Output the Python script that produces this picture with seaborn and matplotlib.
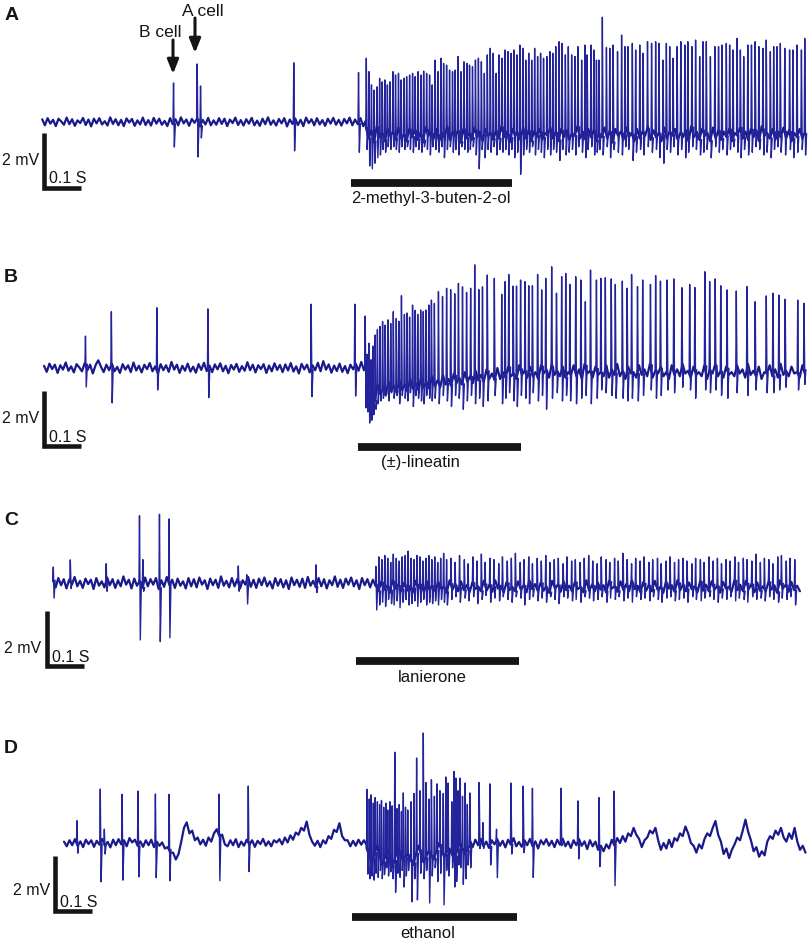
import numpy as np
import pandas as pd
import matplotlib
matplotlib.use("Agg")
import matplotlib.pyplot as plt
import seaborn as sns

sns.set_theme(style="white")
plt.rcParams["font.family"] = ["Liberation Sans", "DejaVu Sans"]

# ----------------------------------------------------------------- data
# time in ms (from the left edge of each panel's time axis), voltage in mV
panel_letters = ["A", "B", "C", "D"]
odor_labels = ["2-methyl-3-buten-2-ol", "(\u00b1)-lineatin", "lanierone", "ethanol"]
stim_start_ms = [949, 968, 962, 951]
stim_end_ms = [1384, 1408, 1403, 1397]
scale_mv = 2
scale_s = 0.1

# ---- panel A
a_pre_range = (114, 989)
a_post_range = (989, 2176)
a_noise_pre = [0.10, -0.12, 0.14, -0.06, 0.08, -0.15, 0.12, 0.02, -0.10, 0.16,
               -0.08, 0.10, -0.14, 0.06, -0.04, 0.15, -0.11, 0.09, -0.16, 0.12,
               -0.05, 0.14, -0.09, 0.03, -0.13, 0.17, -0.07, 0.10, -0.12, 0.08,
               -0.15, 0.13, -0.02, 0.11, -0.14, 0.06, -0.09, 0.16, -0.11, 0.07,
               -0.13, 0.15, -0.06, 0.12, -0.10, 0.04, -0.15, 0.14, -0.08, 0.10,
               -0.12, 0.17, -0.05, 0.09, -0.14, 0.11, -0.03, 0.13, -0.16, 0.08,
               -0.09, 0.15, -0.12, 0.06, -0.10, 0.14, -0.07, 0.12, -0.15, 0.09,
               -0.04, 0.16, -0.11, 0.07, -0.13, 0.10, -0.06, 0.15, -0.12, 0.05,
               -0.14, 0.12, -0.08, 0.17, -0.10, 0.06, -0.13, 0.11, -0.05, 0.14,
               -0.16, 0.09, -0.07, 0.13, -0.11, 0.08, -0.15, 0.16, -0.04, 0.10,
               -0.12, 0.14, -0.09, 0.07, -0.14, 0.12, -0.06, 0.15, -0.10, 0.08,
               -0.13, 0.11, -0.05, 0.16, -0.12, 0.09, -0.08, 0.14, -0.15, 0.06]
a_noise_post = [-0.20, -0.60, -0.30, -0.75, -0.15, -0.55, -0.40, -0.70, -0.25, -0.50,
                -0.35, -0.65, -0.20, -0.60, -0.45, -0.70, -0.25, -0.55, -0.30, -0.65,
                -0.40, -0.75, -0.20, -0.50, -0.35, -0.60, -0.25, -0.70, -0.40, -0.55,
                -0.15, -0.65, -0.35, -0.50, -0.30, -0.75, -0.25, -0.60, -0.40, -0.65,
                -0.20, -0.55, -0.35, -0.70, -0.25, -0.50, -0.40, -0.65, -0.30, -0.60,
                -0.15, -0.55, -0.35, -0.75, -0.25, -0.50, -0.40, -0.65, -0.20, -0.60,
                -0.30, -0.70, -0.35, -0.55, -0.25, -0.65, -0.40, -0.50, -0.20, -0.60,
                -0.35, -0.70, -0.25, -0.55, -0.30, -0.65, -0.40, -0.50, -0.15, -0.60,
                -0.35, -0.65, -0.25, -0.55, -0.30, -0.70, -0.40, -0.55, -0.20, -0.60,
                -0.30, -0.75, -0.25, -0.50, -0.35, -0.65, -0.20, -0.55, -0.40, -0.70,
                -0.25, -0.60, -0.35, -0.50, -0.15, -0.65, -0.30, -0.55, -0.40, -0.70,
                -0.20, -0.60, -0.35, -0.50, -0.25, -0.65, -0.40, -0.55, -0.30, -0.70,
                -0.15, -0.55, -0.35, -0.65, -0.25, -0.50, -0.40, -0.70, -0.20, -0.60,
                -0.30, -0.65, -0.35, -0.55, -0.25, -0.70, -0.40, -0.50, -0.20, -0.60,
                -0.35, -0.65, -0.25, -0.55, -0.30, -0.70, -0.15, -0.50, -0.40, -0.60,
                -0.25, -0.65, -0.35, -0.55, -0.20, -0.60, -0.30, -0.70, -0.40, -0.55,
                -0.25, -0.60, -0.35]
a_spike_ms = [468, 532, 541, 793, 968,
              989, 996, 1003, 1010, 1018, 1025, 1032, 1039, 1046, 1053,
              1061, 1068, 1076, 1083, 1091, 1098, 1106, 1114, 1121, 1129,
              1137, 1144, 1152, 1160, 1167, 1175, 1183, 1191, 1198, 1206,
              1214, 1222, 1229, 1237, 1245, 1253, 1261, 1268, 1276, 1284,
              1292, 1300, 1308, 1316, 1324, 1332, 1340, 1348, 1356, 1364,
              1372, 1380, 1388, 1396, 1404, 1412, 1420, 1428, 1436, 1444,
              1452, 1460, 1468, 1477, 1485, 1493, 1501, 1510, 1518, 1527,
              1535,
              1544, 1553, 1561, 1571, 1580, 1586, 1596, 1604, 1611, 1618,
              1627, 1638, 1647, 1656, 1668, 1679, 1688, 1696, 1708, 1717,
              1728, 1737, 1749, 1760, 1771, 1780, 1791, 1800, 1809, 1818,
              1829, 1839, 1850, 1858, 1869, 1879, 1890, 1899, 1908, 1919,
              1931, 1941, 1950, 1962, 1971, 1980, 1991, 2000, 2009, 2020,
              2030, 2040, 2050, 2061, 2070, 2081, 2090, 2099, 2108, 2120,
              2133, 2142, 2153, 2165, 2174]
a_spike_top = [1.42, 2.11, 1.31, 2.15, 1.80,
               2.32, 1.83, 1.35, 1.16, 1.28, 1.59, 1.46, 1.53, 1.35, 1.46,
               1.83, 1.71, 1.77, 1.53, 1.59, 1.65, 1.71, 1.77, 1.65, 1.83,
               1.71, 1.85, 1.77, 1.71, 1.35, 2.25, 1.83, 2.32, 2.13, 2.07,
               1.89, 1.83, 1.89, 2.38, 1.83, 2.19, 2.13, 2.07, 2.01, 2.25,
               2.32, 2.19, 1.77, 2.44, 2.68, 2.50, 1.77, 2.44, 2.32, 2.62,
               2.56, 2.50, 2.62, 2.44, 2.80, 2.68, 2.25, 2.50, 2.25, 2.68,
               2.38, 2.50, 2.32, 2.38, 2.56, 2.50, 2.74, 2.92, 2.86, 2.44,
               2.74,
               2.44, 2.38, 2.74, 2.25, 2.80, 2.44, 2.80, 2.62, 2.25, 2.25,
               3.81, 2.71, 2.68, 2.80, 2.56, 3.16, 2.74, 2.74, 2.86, 2.62,
               2.80, 2.50, 2.92, 2.86, 2.92, 2.86, 2.25, 2.86, 2.74, 2.32,
               2.74, 2.92, 2.80, 2.92, 2.74, 2.98, 2.38, 2.92, 2.92, 2.38,
               2.74, 2.74, 2.80, 2.86, 2.80, 2.62, 3.04, 2.62, 2.38, 2.80,
               2.80, 2.92, 2.74, 2.68, 2.98, 2.56, 2.74, 2.74, 2.86, 2.68,
               2.62, 2.62, 2.80, 2.62, 3.04]
a_spike_bot = [-0.91, -1.27, -0.58, -1.05, -1.10,
               -1.0, -1.6, -1.7, -1.5, -1.3, -1.2, -1.0, -1.1, -0.9, -1.0,
               -0.9, -1.0, -1.1, -0.9, -1.0, -0.9, -1.0, -1.1, -0.9, -1.0,
               -1.1, -0.9, -1.0, -1.2, -0.9, -1.0, -1.1, -0.9, -1.3, -1.0,
               -0.9, -1.1, -1.0, -1.2, -0.9, -1.0, -1.1, -1.0, -0.9, -1.2,
               -1.7, -1.0, -1.3, -1.0, -1.1, -0.9, -1.2, -1.0, -1.1, -1.0,
               -1.2, -1.0, -1.3, -1.1, -1.9, -1.2, -1.0, -1.1, -0.9, -1.2,
               -1.0, -1.1, -1.3, -1.0, -1.2, -1.0, -1.1, -1.4, -1.0, -1.2,
               -1.1,
               -1.0, -1.2, -0.9, -1.1, -1.3, -1.0, -0.9, -1.2, -1.1, -1.0,
               -1.2, -0.9, -1.3, -1.0, -1.1, -1.2, -0.9, -1.0, -1.4, -1.1,
               -1.0, -1.2, -0.9, -1.1, -1.0, -1.3, -1.5, -1.0, -1.1, -0.9,
               -1.2, -1.0, -1.3, -1.1, -0.9, -1.0, -1.2, -1.1, -1.0, -1.3,
               -0.9, -1.1, -1.0, -1.2, -1.0, -0.9, -1.1, -1.3, -1.0, -1.2,
               -1.1, -0.9, -1.0, -1.2, -1.1, -1.3, -1.0, -0.9, -1.1, -1.2,
               -1.0, -1.3, -1.1, -1.0, -1.2]

# ---- panel B
b_pre_range = (119, 991)
b_post_range = (991, 2176)
b_noise_pre = [0.08, -0.14, 0.16, -0.04, 0.12, -0.18, 0.10, -0.06, 0.20, -0.10,
               0.06, -0.16, 0.14, 0.02, -0.12, 0.18, -0.08, 0.12, -0.20, 0.10,
               0.28, 0.05, -0.15, 0.12, -0.08, 0.16, -0.12, 0.04, -0.18, 0.14,
               -0.06, 0.10, -0.15, 0.20, -0.09, 0.08, -0.16, 0.12, -0.04, 0.18,
               -0.12, 0.06, -0.20, 0.14, -0.08, 0.10, -0.14, 0.22, -0.06, 0.12,
               -0.18, 0.08, -0.10, 0.16, -0.13, 0.05, -0.17, 0.14, -0.07, 0.19,
               -0.11, 0.09, -0.15, 0.13, -0.05, 0.17, -0.12, 0.08, -0.19, 0.11,
               -0.06, 0.15, -0.14, 0.07, -0.10, 0.21, -0.08, 0.12, -0.16, 0.10,
               -0.04, 0.14, -0.18, 0.09, -0.12, 0.17, -0.07, 0.11, -0.15, 0.13,
               -0.09, 0.18, -0.13, 0.06, -0.20, 0.15, -0.05, 0.12, -0.16, 0.10,
               -0.08, 0.19, -0.12, 0.25, -0.06, 0.13, -0.17, 0.09, -0.11, 0.16,
               -0.14, 0.07, -0.19, 0.12, -0.05, 0.15, -0.10, 0.22, -0.08, 0.10]
b_noise_post = [-0.70, -1.10, -0.80, -1.20, -0.60, -0.95, -0.75, -1.00, -0.50, -0.85,
                -0.65, -0.90, -0.45, -0.80, -0.60, -0.85, -0.40, -0.75, -0.55, -0.80,
                -0.35, -0.70, -0.50, -0.75, -0.30, -0.65, -0.45, -0.70, -0.25, -0.60,
                -0.40, -0.65, -0.20, -0.55, -0.35, -0.60, -0.15, -0.50, -0.30, -0.55,
                -0.10, -0.45, -0.25, -0.50, -0.05, -0.40, -0.20, -0.45, 0.00, -0.40,
                -0.15, -0.35, 0.05, -0.30, -0.20, -0.40, 0.10, -0.25, -0.10, -0.35,
                0.05, -0.30, -0.15, -0.40, 0.10, -0.20, -0.05, -0.35, 0.15, -0.25,
                -0.10, -0.30, 0.05, -0.35, -0.15, -0.25, 0.10, -0.30, -0.05, -0.40,
                0.15, -0.20, -0.10, -0.35, 0.05, -0.25, -0.15, -0.30, 0.10, -0.35,
                -0.05, -0.25, 0.15, -0.30, -0.10, -0.40, 0.05, -0.20, -0.15, -0.35,
                0.10, -0.25, -0.05, -0.30, 0.15, -0.35, -0.10, -0.20, 0.05, -0.30,
                -0.15, -0.40, 0.10, -0.25, -0.05, -0.30, 0.15, -0.20, -0.10, -0.35,
                0.05, -0.25, -0.15, -0.30, 0.10, -0.40, -0.05, -0.20, 0.15, -0.30,
                -0.10, -0.35, 0.05, -0.25, -0.15, -0.30, 0.10, -0.20, -0.05, -0.35,
                0.15, -0.25, -0.10, -0.30, 0.05, -0.40, -0.15, -0.20, 0.10, -0.30,
                -0.05, -0.35, 0.15, -0.25, -0.10, -0.30, 0.05, -0.20, -0.15, -0.35,
                0.10, -0.25]
b_spike_ms = [230, 300, 423, 561, 840, 958, 986,
              991, 996, 1002, 1007, 1013,
              1019, 1026, 1033, 1040, 1048, 1055, 1062, 1070, 1077, 1084,
              1092, 1099, 1106, 1114, 1121, 1128, 1136, 1143, 1150, 1158, 1165,
              1173, 1184, 1195, 1206, 1217, 1228, 1238, 1249, 1260, 1271,
              1282, 1293, 1303,
              1316, 1335, 1355, 1364, 1374, 1386, 1395, 1406, 1418, 1428,
              1438, 1452, 1463, 1474, 1490, 1503, 1517, 1528,
              1539, 1555, 1569, 1581, 1595, 1611, 1623, 1635, 1651, 1662,
              1681, 1694, 1706, 1722, 1736, 1757, 1771, 1784, 1802, 1820,
              1842, 1863, 1877, 1904, 1917, 1932, 1947, 1964, 1989, 2018,
              2040, 2070, 2088, 2104, 2121, 2155, 2172]
b_spike_top = [1.16, 2.05, 2.19, 2.15, 2.32, 2.32, 1.89,
               0.50, 0.90, 0.30, 0.80, 1.20,
               1.39, 1.51, 1.69, 1.56, 1.75, 1.62, 2.05, 1.80, 1.70, 2.63,
               1.95, 2.00, 1.85, 2.29, 2.10, 1.95, 2.11, 2.05, 2.11, 2.29, 2.47,
               2.35, 2.78, 2.60, 2.90, 2.85, 2.70, 3.08, 2.95, 2.75, 2.90,
               3.75, 2.85, 2.95,
               3.38, 3.26, 2.68, 3.14, 3.40, 2.98, 2.98, 3.20, 3.14, 2.99,
               2.99, 3.40, 2.84, 3.26, 3.68, 2.72, 3.32, 3.44,
               3.04, 3.32, 3.20, 2.41, 3.56, 3.20, 3.26, 3.28, 3.24, 3.04,
               3.16, 2.90, 3.40, 2.96, 3.20, 3.04, 3.36, 3.16, 3.20, 3.24,
               2.92, 3.04, 2.93, 3.50, 3.14, 3.24, 2.99, 2.84, 2.80, 2.96,
               2.41, 2.62, 2.72, 2.65, 2.50, 2.47, 2.35]
b_spike_bot = [-0.69, -1.27, -0.80, -1.08, -1.04, -1.02, -1.45,
               -1.6, -2.0, -1.9, -1.7, -1.5,
               -1.3, -1.2, -1.1, -1.0, -1.2, -0.9, -1.1, -1.0, -1.3, -1.0,
               -1.1, -1.2, -0.9, -1.4, -1.0, -1.1, -1.2, -1.3, -1.0, -1.1, -1.2,
               -1.1, -1.3, -1.0, -1.2, -1.4, -1.0, -1.1, -1.5, -1.2, -1.0,
               -1.3, -1.1, -1.4,
               -1.2, -1.0, -1.3, -1.1, -0.9, -1.2, -1.4, -1.0, -1.1, -1.3,
               -0.9, -1.2, -1.0, -1.5, -1.1, -0.9, -1.2, -1.0,
               -1.2, -1.3, -1.1, -1.0, -1.3, -1.1, -0.8, -0.9, -1.0, -1.1,
               -1.1, -1.2, -1.1, -1.2, -1.0, -0.8, -1.1, -1.0, -0.8, -0.9,
               -0.7, -0.8, -1.1, -0.8, -0.9, -0.8, -1.0, -1.1, -0.9, -1.0,
               -0.8, -0.9, -0.9, -0.8, -0.7, -0.8, -0.6]

# ---- panel C
c_pre_range = (143, 1015)
c_post_range = (1015, 2162)
c_noise_pre = [0.10, -0.16, 0.18, -0.08, 0.14, -0.20, 0.12, -0.06, 0.22, -0.12,
               0.08, -0.18, 0.16, -0.04, 0.12, -0.22, 0.18, -0.10, 0.06, -0.16,
               0.20, -0.08, 0.14, -0.18, 0.10, -0.12, 0.24, -0.06, 0.12, -0.20,
               0.16, -0.10, 0.08, -0.18, 0.20, -0.12, 0.14, -0.06, 0.18, -0.22,
               0.10, -0.14, 0.22, -0.08, 0.12, -0.18, 0.16, -0.10, 0.06, -0.20,
               0.18, -0.12, 0.14, -0.16, 0.20, -0.06, 0.10, -0.22, 0.16, -0.08,
               0.12, -0.18, 0.24, -0.10, 0.08, -0.16, 0.18, -0.12, 0.14, -0.20,
               0.10, -0.06, 0.22, -0.14, 0.12, -0.18, 0.16, -0.08, 0.20, -0.12,
               0.06, -0.20, 0.18, -0.10, 0.14, -0.16, 0.10, -0.22, 0.20, -0.08,
               0.12, -0.14, 0.16, -0.18, 0.22, -0.10, 0.08, -0.16, 0.18, -0.12,
               0.14, -0.20, 0.10, -0.08, 0.24, -0.14, 0.12, -0.18, 0.16, -0.06,
               0.20, -0.12, 0.10, -0.22, 0.18, -0.08, 0.14, -0.16, 0.12, -0.10]
c_noise_post = [-0.05, -0.30, 0.05, -0.25, -0.10, -0.35, 0.10, -0.20, -0.05, -0.30,
                0.00, -0.28, -0.12, -0.35, 0.08, -0.22, -0.06, -0.32, 0.06, -0.25,
                -0.10, -0.30, 0.04, -0.20, -0.15, -0.36, 0.10, -0.24, -0.04, -0.30,
                0.06, -0.26, -0.08, -0.34, 0.02, -0.22, -0.12, -0.30, 0.08, -0.28,
                -0.06, -0.32, 0.10, -0.20, -0.10, -0.35, 0.04, -0.26, -0.14, -0.30,
                0.06, -0.24, -0.08, -0.34, 0.10, -0.22, -0.04, -0.30, 0.02, -0.28,
                -0.12, -0.36, 0.08, -0.20, -0.06, -0.32, 0.06, -0.26, -0.10, -0.30,
                0.04, -0.22, -0.14, -0.34, 0.10, -0.28, -0.06, -0.30, 0.02, -0.24,
                -0.08, -0.35, 0.08, -0.20, -0.12, -0.32, 0.06, -0.26, -0.04, -0.30,
                0.10, -0.22, -0.10, -0.34, 0.04, -0.28, -0.06, -0.30, 0.08, -0.24,
                -0.14, -0.36, 0.06, -0.20, -0.08, -0.32, 0.10, -0.26, -0.04, -0.30,
                0.02, -0.22, -0.12, -0.34, 0.08, -0.28, -0.06, -0.30, 0.06, -0.24,
                -0.10, -0.35, 0.04, -0.20, -0.14, -0.32, 0.10, -0.26, -0.06, -0.30,
                0.08, -0.22, -0.04, -0.34, 0.02, -0.28, -0.12, -0.30, 0.06, -0.24,
                -0.08, -0.36, 0.10, -0.20, -0.06, -0.32, 0.04, -0.26, -0.10, -0.30]
c_spike_ms = [143, 189, 286, 376, 385, 430, 456, 643, 666, 853,
              1015, 1023, 1031, 1039, 1047, 1055, 1062, 1070, 1078, 1086,
              1094, 1102, 1110, 1118, 1126, 1134, 1142, 1150, 1158, 1166,
              1174, 1182, 1190, 1198, 1206,
              1218, 1229, 1241, 1254, 1264, 1277, 1288, 1300, 1310, 1323,
              1334, 1347, 1357, 1370, 1381, 1392, 1405, 1415, 1428, 1438,
              1451, 1462, 1474, 1485, 1497, 1508, 1521, 1531, 1544, 1554,
              1567, 1578, 1590, 1601, 1613, 1624, 1637, 1647, 1660, 1670,
              1683, 1694, 1706, 1717, 1729, 1740, 1753, 1763, 1776, 1786,
              1799, 1810, 1822, 1833, 1845, 1856, 1869, 1879, 1892, 1902,
              1915, 1926, 1938, 1949, 1961, 1972, 1985, 1995, 2008, 2018,
              2031, 2042, 2054, 2065, 2077, 2088, 2101, 2111, 2124, 2134,
              2147]
c_spike_top = [0.58, 0.84, 0.70, 2.45, 0.85, 2.50, 2.33, 0.62, 0.30, 0.66,
               0.60, 0.95, 0.85, 1.00, 0.90, 0.75, 1.05, 0.90, 0.80, 0.95,
               1.00, 1.16, 0.90, 0.85, 1.00, 0.95, 0.80, 0.90, 1.00, 0.85,
               0.95, 0.75, 0.90, 1.08, 0.85,
               0.90, 0.75, 1.00, 0.85, 0.70, 0.95, 0.80, 1.05, 0.75, 0.90,
               0.85, 0.70, 0.95, 0.80, 0.90, 1.08, 0.75, 0.85, 0.95, 0.70,
               0.90, 0.80, 1.00, 0.75, 0.85, 0.90, 0.70, 0.95, 0.80, 0.85,
               0.75, 0.90, 1.00, 0.80, 0.70, 0.95, 0.85, 0.75, 0.90, 0.80,
               1.08, 0.85, 0.70, 0.90, 0.80, 0.95, 0.75, 0.85, 0.90, 0.70,
               0.80, 0.95, 0.75, 0.85, 0.90, 0.80, 0.70, 0.90, 0.85, 0.75,
               0.95, 0.80, 0.90, 0.70, 0.85, 0.80, 0.95, 0.75, 0.90, 0.85,
               0.80, 1.05, 0.75, 0.90, 0.85, 0.70, 0.95, 1.00, 0.80, 0.90,
               0.85]
c_spike_bot = [-0.55, -0.20, -0.30, -2.07, -0.30, -2.13, -1.99, -0.30, -0.76, -0.35,
               -0.98, -0.80, -0.70, -0.85, -0.60, -0.75, -0.80, -0.65, -0.90, -0.70,
               -0.60, -0.80, -0.75, -0.65, -0.85, -0.70, -0.60, -0.80, -0.70, -0.75,
               -0.65, -0.80, -0.60, -0.70, -0.80,
               -0.60, -0.50, -0.70, -0.55, -0.65, -0.50, -0.75, -0.60, -0.45, -0.70,
               -0.55, -0.65, -0.50, -0.60, -0.70, -0.50, -0.55, -0.80, -0.60, -0.50,
               -0.65, -0.55, -0.70, -0.50, -0.60, -0.75, -0.50, -0.55, -0.65, -0.60,
               -0.70, -0.50, -0.55, -0.65, -0.60, -0.50, -0.70, -0.55, -0.60, -0.50,
               -0.65, -0.55, -0.70, -0.50, -0.60, -0.55, -0.65, -0.50, -0.60, -0.70,
               -0.55, -0.50, -0.65, -0.60, -0.55, -0.70, -0.50, -0.60, -0.65, -0.55,
               -0.50, -0.60, -0.70, -0.55, -0.60, -0.50, -0.65, -0.55, -0.60, -0.70,
               -0.50, -0.60, -0.55, -0.65, -0.50, -0.60, -0.70, -0.55, -0.60, -0.50,
               -0.80]

# ---- panel D
d_pre_range = (173, 991)
d_burst_range = (991, 1270)
d_post_range = (1270, 2177)
d_noise_pre = [0.05, -0.12, 0.10, -0.08, 0.14, -0.10, 0.06, -0.15, 0.12, -0.04,
               0.10, -0.14, 0.08, -0.06, 0.15, -0.10, 0.04, -0.16, 0.12, -0.08,
               0.14, -0.05, 0.10, -0.12, 0.18, 0.02, 0.12, -0.10, 0.06, -0.14,
               0.10, -0.08, 0.12, -0.15, 0.05, -0.10, 0.02, -0.20, -0.15, -0.35,
               -0.35, -0.60, -0.40, 0.05, 0.55, 0.75, 0.35, 0.45, 0.10, 0.20,
               -0.05, 0.12, -0.10, 0.20, 0.05, 0.35, 0.50, 0.25, 0.30, -0.05,
               -0.12, 0.10, -0.08, 0.14, -0.15, 0.05, -0.10, 0.12, -0.06, 0.10,
               -0.14, 0.08, -0.04, 0.15, -0.10, 0.06, -0.12, 0.10, 0.02, 0.14,
               -0.05, 0.20, 0.02, 0.28, 0.12, 0.38, 0.30, 0.55, 0.45, 0.78,
               0.30, 0.05, -0.10, 0.08, -0.15, 0.10, -0.02, 0.25, 0.15, 0.48,
               0.40, 0.72, 0.25, 0.10, 0.10, -0.12, 0.08, -0.10, 0.12, -0.06,
               0.10, -0.08]
d_noise_burst = [-0.2, -0.7, -0.1, -0.8, -0.3, -0.9, -0.2, -0.6, -0.4, -0.8,
                 -0.1, -0.7, -0.3, -0.6, 0.0, -0.5, -0.2, -0.6, 0.0, -0.4, -0.1]
d_noise_post = [0.10, -0.15, 0.12, -0.08, 0.15, -0.12, 0.05, -0.18, 0.10, -0.05,
                0.14, -0.10, 0.08, -0.16, 0.12, -0.06, 0.18, -0.12, 0.04, -0.14,
                0.10, -0.08, 0.15, -0.12, 0.06, -0.20, 0.10, -0.05, 0.14, -0.10,
                0.08, -0.15, 0.12, -0.06, 0.16, -0.12, 0.05, -0.18, 0.10, -0.08,
                0.14, -0.10, 0.06, -0.22, 0.10, -0.12, 0.05, -0.25, -0.10, -0.30,
                -0.05, -0.20, 0.12, -0.10, 0.18, 0.00, 0.25, 0.05, 0.35, 0.25,
                0.55, 0.30, 0.15, -0.15, 0.10, 0.20, 0.45, 0.35, 0.55, 0.10,
                -0.25, 0.00, -0.20, 0.12, -0.15, 0.18, 0.08, 0.35, 0.25, 0.60,
                0.35, 0.00, -0.10, -0.35, -0.05, -0.20, 0.15, 0.35, 0.25, 0.55,
                0.80, 0.30, 0.05, -0.40, -0.20, -0.55, -0.25, -0.05, 0.20, 0.10,
                0.45, 0.85, 0.40, 0.10, -0.30, -0.15, -0.50, -0.30, -0.45, 0.05,
                0.25, 0.15, 0.45, 0.30, 0.55, 0.20, 0.05, 0.35, 0.15, 0.55,
                0.05, -0.25, -0.10, -0.35]
d_spike_ms = [207, 270, 281, 329, 372, 419, 456, 591, 670,
              991, 997, 1002, 1008, 1013, 1019, 1025, 1030, 1036, 1042,
              1047, 1053, 1059, 1066, 1072, 1078, 1084, 1089, 1095, 1101,
              1110, 1118, 1125, 1134, 1143, 1150, 1158, 1165, 1173, 1180,
              1188, 1197, 1204, 1210, 1220, 1226, 1231, 1237, 1242, 1249,
              1256, 1262, 1269,
              1294, 1304, 1323, 1341, 1380, 1413, 1438, 1515, 1561, 1618, 1659]
d_spike_top = [0.81, 1.96, 0.50, 1.77, 1.89, 1.78, 1.77, 1.78, 2.07,
               1.95, 1.60, 1.75, 1.45, 1.65, 1.50, 1.40, 1.55, 1.30, 1.45,
               1.20, 1.50, 1.35, 3.30, 1.25, 1.40, 1.15, 1.82, 1.30, 1.20,
               1.50, 1.80, 3.09, 1.90, 4.00, 2.20, 1.60, 2.30, 1.70, 2.15,
               1.90, 1.80, 2.40, 2.18, 1.50, 2.60, 2.36, 1.90, 2.36, 1.70,
               2.18, 1.40, 1.82,
               2.20, 0.74, 2.15, 0.50, 2.18, 2.07, 1.99, 1.99, 1.53, 1.65, 1.89]
d_spike_bot = [-0.37, -1.41, -0.40, -1.35, -1.23, -1.26, -1.37, -1.37, -1.04,
               -1.13, -1.30, -1.20, -1.35, -1.10, -1.25, -1.00, -1.30, -1.15, -0.90,
               -1.20, -1.05, -1.30, -1.80, -1.10, -1.25, -1.00, -1.60, -1.20, -1.00,
               -2.14, -1.30, -2.07, -1.10, -1.30, -1.00, -2.18, -1.20, -0.90, -1.40,
               -1.10, -2.25, -1.00, -1.20, -0.90, -1.60, -1.40, -0.80, -0.90, -1.50,
               -1.30, -0.80, -0.90,
               -0.20, -0.20, -0.80, -1.26, -0.40, -0.35, -1.25, -0.10, -0.58, -0.86, -1.55]

# ----------------------------------------------------------------- layout
W, H = 809, 940
PX_PER_MS = 0.37      # 0.1 s = 37 px
PX_PER_MV = 27.5      # 2 mV = 55 px
TRACE = "#19198a"
SPIKE = "#23239c"
INK = "#151515"

fig = plt.figure(figsize=(W / 100, H / 100), dpi=100)
fig.patch.set_facecolor("white")

# (top px, bottom px, baseline px) for each panel
bands = [(0, 235, 122), (235, 490, 368), (490, 715, 583), (715, 940, 843)]


def limits(ax, top, bottom, base):
    ax.set_xlim(0, W / PX_PER_MS)
    ax.set_ylim(-(bottom - base) / PX_PER_MV, (base - top) / PX_PER_MV)
    ax.set_axis_off()


def baseline_series(segments):
    ts, vs = [], []
    for (t0, t1), vals in segments:
        ts.append(np.linspace(t0, t1, len(vals)))
        vs.append(np.asarray(vals, dtype=float))
    return np.concatenate(ts), np.concatenate(vs)


def spike_frame(times, tops, bots, base_t, base_v):
    rows = []
    for i, (t, top, bot) in enumerate(zip(times, tops, bots)):
        b0 = float(np.interp(t, base_t, base_v))
        for dt, v in ((-0.4, b0), (1.0, top), (3.2, bot), (6.0, b0)):
            rows.append((i, t + dt, v))
    return pd.DataFrame(rows, columns=["spike", "ms", "mV"])


panels = [
    ([(a_pre_range, a_noise_pre), (a_post_range, a_noise_post)], a_spike_ms, a_spike_top, a_spike_bot),
    ([(b_pre_range, b_noise_pre), (b_post_range, b_noise_post)], b_spike_ms, b_spike_top, b_spike_bot),
    ([(c_pre_range, c_noise_pre), (c_post_range, c_noise_post)], c_spike_ms, c_spike_top, c_spike_bot),
    ([(d_pre_range, d_noise_pre), (d_burst_range, d_noise_burst), (d_post_range, d_noise_post)],
     d_spike_ms, d_spike_top, d_spike_bot),
]

# scale-bar corner (px) and text positions (px) per panel
scale_corner_px = [(44, 187.5), (44.5, 445.5), (47.5, 665.5), (55.5, 910.5)]
mv_text_px = [(2, 165), (2, 423), (4, 653), (13, 895)]
s_text_px = [(49, 183), (49, 442), (52, 662), (60, 907)]
letter_px = [(5, 20), (4, 282), (4, 525), (4, 753)]
stim_bar_px_y = [183, 446.5, 661, 917]
label_px = [(431, 202.5), (420, 467), (432.5, 681.5), (428, 937.5)]

axes = []
for k, ((top, bottom, base), (segs, sp_t, sp_top, sp_bot)) in enumerate(zip(bands, panels)):
    ax = fig.add_axes([0, 1 - bottom / H, 1, (bottom - top) / H])
    axes.append(ax)
    bt, bv = baseline_series(segs)
    sns.lineplot(x=bt, y=bv, sort=False, estimator=None, color=TRACE,
                 linewidth=1.6, ax=ax)
    sdf = spike_frame(sp_t, sp_top, sp_bot, bt, bv)
    sns.lineplot(data=sdf, x="ms", y="mV", units="spike", estimator=None,
                 sort=False, color=SPIKE, linewidth=1.0, ax=ax)

    def to_data(px, py, base=base):
        return px / PX_PER_MS, (base - py) / PX_PER_MV

    # scale bar
    cx, cy = to_data(*scale_corner_px[k])
    ax.plot([cx, cx, cx + scale_s * 1000], [cy + scale_mv, cy, cy], color=INK,
            lw=3.3, solid_joinstyle="miter", solid_capstyle="butt")
    # stimulus bar
    _, sy = to_data(0, stim_bar_px_y[k])
    ax.plot([stim_start_ms[k], stim_end_ms[k]], [sy, sy], color=INK, lw=5.6,
            solid_capstyle="butt")
    limits(ax, top, bottom, base)

    fig.text(mv_text_px[k][0] / W, 1 - mv_text_px[k][1] / H, f"{scale_mv} mV",
             ha="left", va="baseline", fontsize=11.5, color=INK)
    fig.text(s_text_px[k][0] / W, 1 - s_text_px[k][1] / H, f"{scale_s} S",
             ha="left", va="baseline", fontsize=11.5, color=INK)
    fig.text(letter_px[k][0] / W, 1 - letter_px[k][1] / H, panel_letters[k],
             ha="left", va="baseline", fontsize=14, fontweight="bold", color=INK)
    fig.text(label_px[k][0] / W, 1 - label_px[k][1] / H, odor_labels[k],
             ha="center", va="baseline", fontsize=12, color=INK)

# cell annotations in panel A
axA = axes[0]
for name, x_px, y0_px, y1_px, tx, ty in [("B cell", 173, 40, 74, 139, 37),
                                          ("A cell", 195, 18, 53, 182, 16)]:
    xa = x_px / PX_PER_MS
    axA.annotate("", xy=(xa, (122 - y1_px) / PX_PER_MV), xytext=(xa, (122 - y0_px) / PX_PER_MV),
                 arrowprops=dict(arrowstyle="-|>,head_width=0.28,head_length=0.7",
                                 lw=2.2, color=INK, shrinkA=0, shrinkB=0),
                 annotation_clip=False)
    fig.text(tx / W, 1 - ty / H, name, ha="left", va="baseline", fontsize=12.5, color=INK)

fig.savefig("out.png", dpi=100, facecolor="white")
